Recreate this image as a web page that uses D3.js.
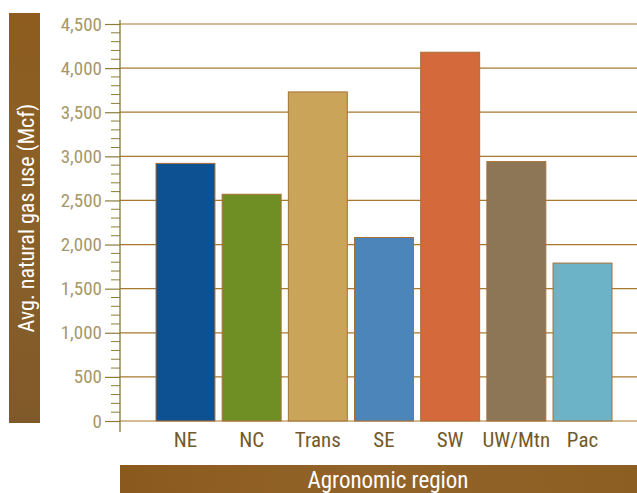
<!DOCTYPE html>
<html>
<head>
<meta charset="utf-8">
<script src="https://cdn.jsdelivr.net/npm/d3@7"></script>
<style>
  html, body { margin: 0; padding: 0; background: #fff; }
  svg { display: block; }
</style>
</head>
<body>
<svg id="chart" width="637" height="493"></svg>
<script>
// Average natural gas use per region
const regions = ["NE", "NC", "Trans", "SE", "SW", "UW/Mtn", "Pac"];
const gasUse = [2920, 2570, 3730, 2080, 4180, 2940, 1790];
const barColors = ["#0e5192", "#6f8f24", "#c9a459", "#4b85ba", "#d4693b", "#8c7655", "#6db3c8"];
const yTicks = [0, 500, 1000, 1500, 2000, 2500, 3000, 3500, 4000, 4500];
const yTitle = "Avg. natural gas use (Mcf)";
const xTitle = "Agronomic region";

const svg = d3.select("#chart");
const fontFamily = "'Roboto Condensed', 'Liberation Sans Narrow', 'Liberation Sans', sans-serif";

const axisX = 120;
const plotRight = 637;
const y = d3.scaleLinear().domain([0, 4500]).range([421, 24]);
const x = d3.scaleBand().domain(regions).range([156, 612]).paddingInner(0.109).paddingOuter(0);

// gradients for the title boxes
const defs = svg.append("defs");
const gH = defs.append("linearGradient").attr("id", "boxH").attr("x1", "0").attr("x2", "1");
gH.append("stop").attr("offset", "0").attr("stop-color", "#8a5a1d");
gH.append("stop").attr("offset", "0.5").attr("stop-color", "#93642a");
gH.append("stop").attr("offset", "1").attr("stop-color", "#8c5e22");
const gV = defs.append("linearGradient").attr("id", "boxV").attr("x1", "0").attr("x2", "0").attr("y1", "0").attr("y2", "1");
gV.append("stop").attr("offset", "0").attr("stop-color", "#8d5c1e");
gV.append("stop").attr("offset", "0.5").attr("stop-color", "#8a6128");
gV.append("stop").attr("offset", "1").attr("stop-color", "#80592a");

// y title box
svg.append("rect").attr("x", 9).attr("y", 13).attr("width", 31).attr("height", 410).attr("fill", "url(#boxV)");
svg.append("text")
  .attr("transform", "translate(26,218) rotate(-90)")
  .attr("text-anchor", "middle").attr("dominant-baseline", "central")
  .attr("fill", "#fff").attr("font-family", fontFamily).attr("font-size", 22)
  .text(yTitle);

// x title box
svg.append("rect").attr("x", 120).attr("y", 465).attr("width", 517).attr("height", 28).attr("fill", "url(#boxH)");
svg.append("text")
  .attr("x", 388).attr("y", 480)
  .attr("text-anchor", "middle").attr("dominant-baseline", "central")
  .attr("fill", "#fff").attr("font-family", fontFamily).attr("font-size", 23)
  .text(xTitle);

// horizontal gridlines
svg.append("g").selectAll("line").data(yTicks).join("line")
  .attr("x1", axisX).attr("x2", plotRight)
  .attr("y1", d => y(d)).attr("y2", d => y(d))
  .attr("stroke", "#a8782f").attr("stroke-width", 1.2);

// y axis with major and minor ticks
const yAxisG = svg.append("g").attr("transform", `translate(${axisX},0)`);
const minorTicks = d3.range(0, 4501, 100).filter(v => v % 500 !== 0);
yAxisG.selectAll("line.minor").data(minorTicks).join("line")
  .attr("class", "minor")
  .attr("x1", -9).attr("x2", 0)
  .attr("y1", d => y(d)).attr("y2", d => y(d))
  .attr("stroke", "#8a7d3a").attr("stroke-width", 1);
yAxisG.call(d3.axisLeft(y).tickValues(yTicks).tickSize(15).tickPadding(3).tickFormat(d3.format(",")))
  .call(g => g.select(".domain").remove())
  .call(g => g.selectAll(".tick line").attr("stroke", "#8a7d3a").attr("stroke-width", 1.2))
  .call(g => g.selectAll(".tick text")
    .attr("fill", "#a8976a").attr("font-family", fontFamily).attr("font-size", 19));
yAxisG.append("line").attr("x1", 0).attr("x2", 0).attr("y1", 20).attr("y2", 432)
  .attr("stroke", "#7f7a33").attr("stroke-width", 1.3);

// bars
svg.append("g").selectAll("rect").data(regions).join("rect")
  .attr("x", d => x(d))
  .attr("width", x.bandwidth())
  .attr("y", (d, i) => y(gasUse[i]))
  .attr("height", (d, i) => y(0) - y(gasUse[i]))
  .attr("fill", (d, i) => barColors[i])
  .attr("stroke", "#a86f36").attr("stroke-width", 1);

// category labels
svg.append("g").selectAll("text").data(regions).join("text")
  .attr("x", d => x(d) + x.bandwidth() / 2)
  .attr("y", 440)
  .attr("text-anchor", "middle").attr("dominant-baseline", "central")
  .attr("fill", "#735a2a").attr("font-family", fontFamily).attr("font-size", 21)
  .text(d => d);
</script>
</body>
</html>
